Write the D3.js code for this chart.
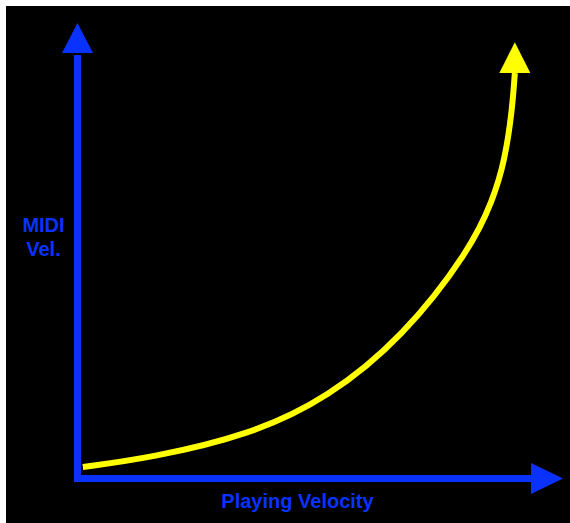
<!DOCTYPE html>
<html>
<head>
<meta charset="utf-8">
<script src="https://d3js.org/d3.v7.min.js"></script>
<style>
  body { margin: 0; background: #fff; }
</style>
</head>
<body>
<div id="chart"></div>
<script>
// curve: playing velocity -> MIDI velocity (0..127)
let playingVel = [1.4, 19.0, 45.1, 65.5, 85.2, 102.7, 108.7, 111.8, 113.7, 114.4]
let midiVel = [3.2, 5.7, 12.1, 22.4, 39.4, 63.6, 77.5, 88.6, 102.5, 112.8]
let curveTip = [114.4, 121.4]

let xLabel = "Playing Velocity"
let yLabel = ["MIDI", "Vel."]

const width = 570, height = 523
const blue = "#0a32ff", yellow = "#ffff00"

let svg = d3.select("#chart")
    .append("svg")
    .attr("width", width)
    .attr("height", height)

svg.append("rect")
    .attr("x", 6)
    .attr("y", 6)
    .attr("width", width - 6)
    .attr("height", height - 6)
    .style("fill", "#000")

let x = d3.scaleLinear().domain([0, 127]).range([77.5, 563])
let y = d3.scaleLinear().domain([0, 127]).range([478.5, 22])

// axes (arrows)
svg.append("line")
    .attr("x1", x(0)).attr("x2", x(0))
    .attr("y1", y(0) + 3.5).attr("y2", 55)
    .style("stroke", blue)
    .style("stroke-width", 7)

svg.append("path")
    .attr("d", `M${x(0) - 15.5},53 L${x(0)},23 L${x(0) + 15.5},53 Z`)
    .style("fill", blue)

svg.append("line")
    .attr("x1", x(0) - 3.5).attr("x2", 533)
    .attr("y1", y(0)).attr("y2", y(0))
    .style("stroke", blue)
    .style("stroke-width", 7)

svg.append("path")
    .attr("d", `M531,${y(0) - 15.5} L${x(127)},${y(0)} L531,${y(0) + 15.5} Z`)
    .style("fill", blue)

// curve
let pts = playingVel.map((v, i) => [v, midiVel[i]])

let line = d3.line()
    .x(d => x(d[0]))
    .y(d => y(d[1]))
    .curve(d3.curveBasis)

svg.append("path")
    .datum(pts)
    .attr("d", line)
    .style("fill", "none")
    .style("stroke", yellow)
    .style("stroke-width", 6)

let last = pts[pts.length - 1]
svg.append("path")
    .attr("d", `M${x(last[0]) - 15.5},${y(last[1])} L${x(curveTip[0])},${y(curveTip[1])} L${x(last[0]) + 15.5},${y(last[1])} Z`)
    .style("fill", yellow)

// labels
svg.append("text")
    .attr("x", 297.5)
    .attr("y", 508)
    .attr("text-anchor", "middle")
    .text(xLabel)
    .style("fill", blue)
    .style("font-family", "Liberation Sans, Arial, Helvetica")
    .style("font-weight", "bold")
    .style("font-size", "20px")

svg.selectAll(".ylab")
    .data(yLabel)
    .enter()
    .append("text")
    .attr("class", "ylab")
    .attr("x", 43.5)
    .attr("y", (d, i) => 232 + i * 24)
    .attr("text-anchor", "middle")
    .text(d => d)
    .style("fill", blue)
    .style("font-family", "Liberation Sans, Arial, Helvetica")
    .style("font-weight", "bold")
    .style("font-size", "20px")
</script>
</body>
</html>
